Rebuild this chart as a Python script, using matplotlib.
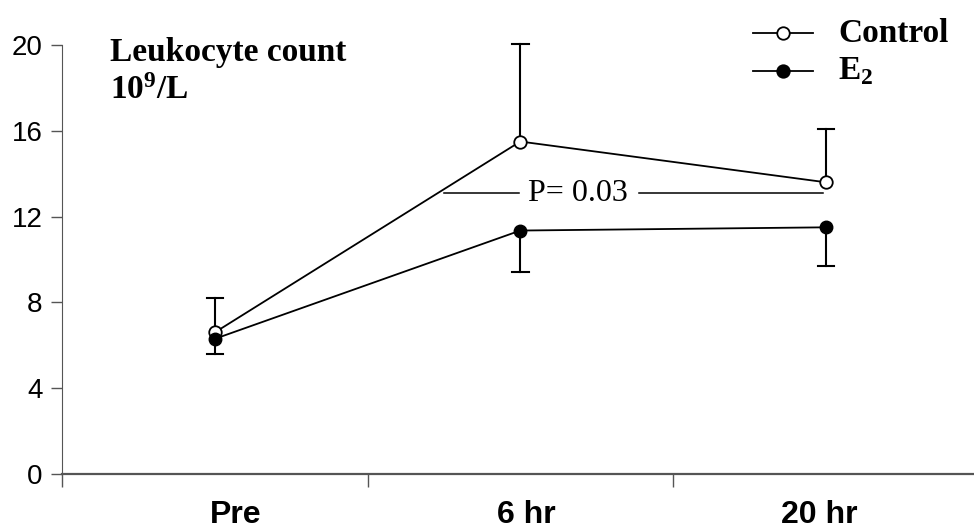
import matplotlib
matplotlib.use("Agg")
import matplotlib.pyplot as plt
from matplotlib.lines import Line2D

plt.rcParams["mathtext.fontset"] = "custom"
plt.rcParams["mathtext.rm"] = "Liberation Serif"
plt.rcParams["mathtext.bf"] = "Liberation Serif:bold"

# ---------------- data ----------------
categories = ["Pre", "6 hr", "20 hr"]
control_mean = [6.6, 15.5, 13.6]
control_err = [1.6, 4.55, 2.5]     # only upper bar drawn
e2_mean = [6.3, 11.35, 11.5]
e2_err = [0.7, 1.95, 1.8]          # only lower bar drawn
p_label = "P= 0.03"
p_level = 13.1

W, H = 974, 531
fig = plt.figure(figsize=(W / 100, H / 100), dpi=100)
ax = fig.add_axes([62 / W, 57 / H, 912 / W, 429 / H])

x = list(range(len(categories)))
cap = 0.027  # half cap width, in category units


def one_sided_err(xs, means, errs, sign):
    # vertical stem plus a cap on one side only
    for xi, m, e in zip(xs, means, errs):
        end = m + sign * e
        ax.plot([xi, xi], [m, end], color="black", lw=1.5, zorder=2,
                clip_on=False)
        ax.plot([xi - cap, xi + cap], [end, end], color="black", lw=1.5,
                zorder=2, clip_on=False)


one_sided_err(x, control_mean, control_err, +1)
one_sided_err(x, e2_mean, e2_err, -1)

ax.plot(x, control_mean, color="black", lw=1.3, marker="o", ms=9,
        mfc="white", mec="black", mew=1.3, zorder=3)
ax.plot(x, e2_mean, color="black", lw=1.3, marker="o", ms=9,
        mfc="black", mec="black", zorder=4)

# P value annotation between 6 hr and 20 hr
ax.plot([0.75, 0.995], [p_level, p_level], color="black", lw=1.1)
ax.plot([1.39, 1.99], [p_level, p_level], color="black", lw=1.1)
ax.text(1.19, p_level, p_label, fontsize=23, family="Liberation Serif",
        ha="center", va="center")

ax.set_xlim(-0.5, 2.485)
ax.set_ylim(0, 20)
ax.set_yticks([0, 4, 8, 12, 16, 20])
ax.tick_params(axis="y", labelsize=20, length=8, width=1, color="#555555",
               pad=6)
for lab in ax.get_yticklabels():
    lab.set_family("Liberation Sans")

# category boundaries carry the tick marks, labels sit below
ax.set_xticks([-0.5, 0.5, 1.5])
ax.set_xticklabels([])
ax.tick_params(axis="x", length=9, width=1, color="#555555")
label_x = [0.07, 1.02, 1.98]
for lx, name in zip(label_x, categories):
    ax.text(lx, -1.9, name, fontsize=23, fontweight="bold",
            family="Liberation Sans", ha="center", va="center")

for side in ["top", "right"]:
    ax.spines[side].set_visible(False)
ax.spines["left"].set_color("#555555")
ax.spines["bottom"].set_color("#555555")
ax.spines["bottom"].set_linewidth(1.6)

# y label inside the plot
fig.text(110 / W, 1 - 61 / H, "Leukocyte count", fontsize=24,
         fontweight="bold", family="Liberation Serif", va="baseline")
fig.text(110 / W, 1 - 99 / H, r"$\mathbf{10^{9}/L}$", fontsize=24,
         va="baseline")

# legend drawn by hand
leg_rows = [("Control", "white", 33), (r"E$_{\mathbf{2}}$", "black", 71)]
for name, fill, ypx in leg_rows:
    yf = 1 - ypx / H
    fig.add_artist(Line2D([753 / W, 813 / W], [yf, yf], color="black",
                          lw=1.3, transform=fig.transFigure))
    fig.add_artist(Line2D([783 / W], [yf], marker="o", ms=9, mfc=fill,
                          mec="black", mew=1.3, transform=fig.transFigure))
    fig.text(838 / W, yf, name, fontsize=24, fontweight="bold",
             family="Liberation Serif", va="center")

fig.savefig("out.png", dpi=100)
